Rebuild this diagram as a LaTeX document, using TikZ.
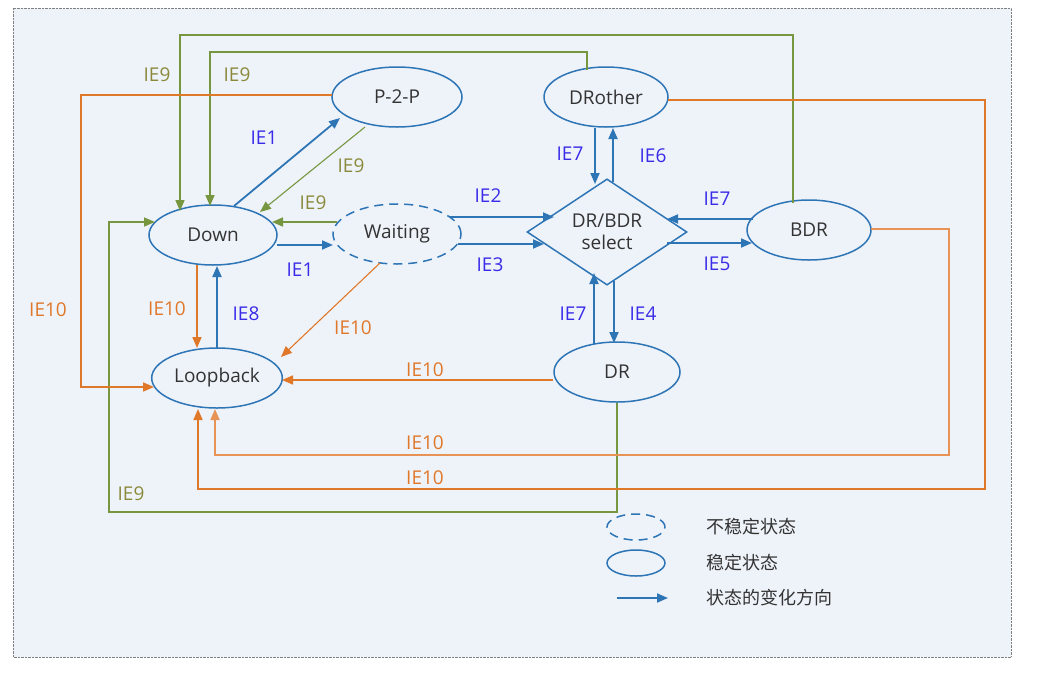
\documentclass[tikz,border=0pt]{standalone}
\usepackage{fontspec}
\setmainfont{Open Sans}
\newfontfamily\cjk{Noto Sans CJK SC}
\usetikzlibrary{shapes.geometric,arrows.meta}
\definecolor{bg}{HTML}{EEF3FA}
\definecolor{nb}{HTML}{2E75B6}
\definecolor{gr}{HTML}{779640}
\definecolor{og}{HTML}{E0782A}
\definecolor{lb}{HTML}{3A2BE8}
\definecolor{l9}{HTML}{8A8A3A}
\begin{document}
\begin{tikzpicture}[x=1pt,y=-1pt,
 st/.style={ellipse,draw=nb,line width=1.5pt,fill=bg,font=\fontsize{19}{19}\selectfont,text=black!80},
 dsh/.style={dash pattern=on 9pt off 6pt},
 tip/.style={-{Triangle[length=11pt,width=9pt]}},
 b/.style={draw=nb,line width=1.8pt,tip},
 g/.style={draw=gr,line width=1.6pt,tip},
 o/.style={draw=og,line width=1.6pt,tip},
 lab/.style={font=\fontsize{19}{19}\selectfont,text=lb},
 l9/.style={font=\fontsize{19}{19}\selectfont,text=l9},
 l10/.style={font=\fontsize{19}{19}\selectfont,text=og}]
\useasboundingbox (0,0) rectangle (1042,686);
\fill[white] (0,0) rectangle (1042,686);
\draw[densely dotted,gray,fill=bg] (13,8) rectangle (1011,657);
\node[st,minimum width=130,minimum height=60] (p2p) at (397,97) {P-2-P};
\node[st,minimum width=124,minimum height=60] (dro) at (606,97) {DRother};
\node[st,minimum width=128,minimum height=60] (down) at (213,235) {Down};
\node[st,dsh,minimum width=128,minimum height=60] (wait) at (397,234) {Waiting};
\node[diamond,draw=nb,line width=1.5pt,fill=bg,minimum width=160,minimum height=100,inner sep=0,align=center,font=\fontsize{19}{22}\selectfont,text=black!80] (sel) at (607,232) {DR/BDR\\select};
\node[st,minimum width=124,minimum height=60] (bdr) at (809,230) {BDR};
\node[st,minimum width=128,minimum height=60] (loop) at (217,378) {Loopback};
\node[st,minimum width=126,minimum height=60] (dr) at (617,372) {DR};
% green
\coordinate (a1) at (793,203);
\coordinate (a2) at (587,70);
\draw[g] (a1) -- (793,35) -- (180,35) -- (180,211);
\draw[g] (a2) -- (587,52) -- (210,52) -- (210,206);
\coordinate (a4) at (365,127);
\draw[g,line width=1.1pt] (a4) -- (260,212);
\coordinate (a3) at (337,222);
\draw[g] (a3) -- (272,222);
\draw[g] (dr.south) -- (617,512) -- (109,512) -- (109,222) -- (155,222);
\node[l9] at (157,75) {IE9};
\node[l9] at (237,75) {IE9};
\node[l9] at (351,166) {IE9};
\node[l9] at (313,203) {IE9};
\node[l9] at (131,494) {IE9};
% blue
\draw[b] (234,206) -- (340,118);
\draw[b] (277,245) -- (333,245);
\draw[b] (450,217) -- (554,217);
\draw[b] (458,244) -- (544,244);
\draw[b] (595,128) -- (595,184);
\draw[b] (613,182) -- (613,128);
\draw[b] (753,219) -- (667,219);
\draw[b] (667,243) -- (752,243);
\draw[b] (594,344) -- (594,273);
\draw[b] (614,281) -- (614,343);
\draw[b] (217,348) -- (217,266);
\node[lab] at (264,138) {IE1};
\node[lab] at (300,270) {IE1};
\node[lab] at (488,196) {IE2};
\node[lab] at (490,265) {IE3};
\node[lab] at (570,154) {IE7};
\node[lab] at (653,156) {IE6};
\node[lab] at (717,199) {IE7};
\node[lab] at (717,264) {IE5};
\node[lab] at (573,314) {IE7};
\node[lab] at (643,314) {IE4};
\node[lab] at (246,314) {IE8};
% orange
\coordinate (b1) at (332,95);
\draw[o] (b1) -- (81,95) -- (81,387) -- (154,387);
\draw[o] (197,265) -- (197,348);
\coordinate (b2) at (380,263);
\draw[o,line width=1.1pt] (b2) -- (281,357);
\coordinate (b3) at (553,380);
\draw[o] (b3) -- (282,380);
\coordinate (b4) at (871,229);
\draw[o,draw=og!80] (b4) -- (949,229) -- (949,455) -- (215,455) -- (215,409);
\coordinate (b5) at (668,100);
\draw[o] (b5) -- (985,100) -- (985,489) -- (198,489) -- (198,409);
\node[l10] at (48,310) {IE10};
\node[l10] at (167,309) {IE10};
\node[l10] at (353,328) {IE10};
\node[l10] at (425,370) {IE10};
\node[l10] at (425,443) {IE10};
\node[l10] at (425,478) {IE10};
% legend
\node[ellipse,draw=nb,line width=1.5pt,dsh,minimum width=58,minimum height=26] (lg1) at (636,527) {};
\node[ellipse,draw=nb,line width=1.5pt,minimum width=58,minimum height=26] (lg2) at (636,563) {};
\coordinate (lg3a) at (617,598); \coordinate (lg3b) at (668,598);
\draw[b] (lg3a) -- (lg3b);
\node[anchor=west,font=\cjk\fontsize{18}{18}\selectfont,text=black!80] at (703,527) {不稳定状态};
\node[anchor=west,font=\cjk\fontsize{18}{18}\selectfont,text=black!80] at (703,563) {稳定状态};
\node[anchor=west,font=\cjk\fontsize{18}{18}\selectfont,text=black!80] at (703,598) {状态的变化方向};
\end{tikzpicture}
\end{document}
